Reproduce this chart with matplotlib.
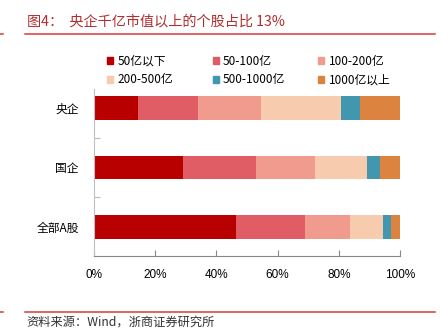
import matplotlib.pyplot as plt
from matplotlib.patches import Patch
from matplotlib.lines import Line2D
import numpy as np

plt.rcParams['font.family'] = ['Noto Sans CJK SC', 'DejaVu Sans']

# 分组（从下到上）
groups = ['全部A股', '国企', '央企']
bins = ['50亿以下', '50-100亿', '100-200亿', '200-500亿', '500-1000亿', '1000亿以上']
# 各市值区间个股占比（%），顺序对应 groups
share_50 = [46.4, 29.2, 14.5]
share_100 = [22.7, 23.7, 19.6]
share_200 = [14.6, 19.3, 20.5]
share_500 = [10.9, 17.0, 26.1]
share_1000 = [2.6, 4.4, 6.2]
share_above = [2.8, 6.4, 13.1]
colors = ['#B80000', '#E05D65', '#F19A8E', '#F7CBAD', '#4197B0', '#DC843F']

fig = plt.figure(figsize=(4.41, 3.30), dpi=100)
ax = fig.add_axes([94/441, 74/330, 306/441, 167/330])

y = np.arange(len(groups))
left = np.zeros(len(groups))
for vals, c, lab in zip([share_50, share_100, share_200, share_500, share_1000, share_above], colors, bins):
    ax.barh(y, vals, left=left, height=0.40, color=c, label=lab)
    left += np.array(vals)

ax.set_xlim(0, 100)
ax.set_ylim(-0.49, 2.32)
ax.set_xticks(np.arange(0, 101, 20))
ax.set_xticklabels([f'{v}%' for v in range(0, 101, 20)], fontsize=8.5, family='Liberation Sans')
ax.tick_params(axis='x', direction='in', length=4, color='#888888', pad=9)
ax.set_yticks([0.5, 1.5])
ax.set_yticklabels([])
ax.set_yticks(y, minor=True)
ax.set_yticklabels(groups, minor=True, fontsize=8.5)
ax.tick_params(axis='y', which='major', direction='in', length=4, color='#bbbbbb')
ax.tick_params(axis='y', which='minor', length=0, pad=11)
for s in ['top', 'right']:
    ax.spines[s].set_visible(False)
ax.spines['left'].set_color('#c0c0c0')
ax.spines['bottom'].set_color('#888888')

# 图例：三列，每列两行，列间距固定
col_x = [107, 212.5, 318]
for k, x0 in enumerate(col_x):
    idx = [k, k + 3]
    leg = fig.legend([Patch(color=colors[i]) for i in idx], [bins[i] for i in idx],
                     ncol=1, loc='center left', bbox_to_anchor=(x0/441, 1 - 70.5/330),
                     frameon=False, fontsize=8.5, handlelength=0.55, handleheight=0.55,
                     handletextpad=0.35, labelspacing=0.5,
                     borderpad=0, borderaxespad=0)

# 标题与来源
fig.text(27/441, 1 - 21/330, '图4：  央企千亿市值以上的个股占比 13%', fontsize=10.2,
         color='#B22D2D', va='center', ha='left')
fig.add_artist(Line2D([25/441, 435/441], [1 - 33.5/330] * 2, color='#D83A3A', lw=1.1))
fig.add_artist(Line2D([0, 3/441], [1 - 33.5/330] * 2, color='#D83A3A', lw=1.1))
fig.add_artist(Line2D([25/441, 435/441], [1 - 311.5/330] * 2, color='#D83A3A', lw=1.1))
fig.add_artist(Line2D([0, 3/441], [1 - 311.5/330] * 2, color='#D83A3A', lw=1.1))
fig.text(26/441, 1 - 322.5/330, '资料来源：Wind，浙商证券研究所', fontsize=8.8,
         color='#333333', va='center', ha='left')

fig.savefig('out.png', dpi=100)
